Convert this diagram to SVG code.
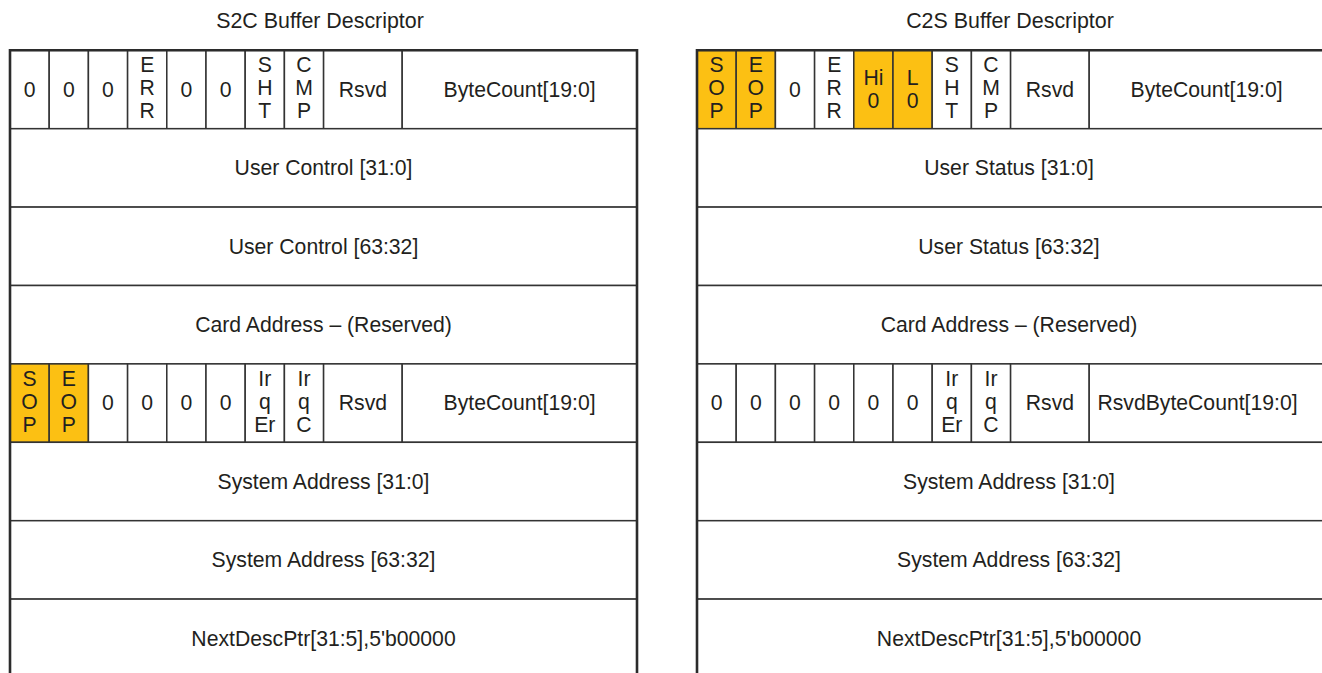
<svg xmlns="http://www.w3.org/2000/svg" width="1322" height="673" viewBox="0 0 1322 673">
<style>
.bg{fill:#ffffff}
.c{fill:#ffffff;stroke:#333333;stroke-width:1.5}
.o{fill:#fcc013;stroke:#333333;stroke-width:1.5}
.b{fill:none;stroke:#2b2b2b;stroke-width:2.6}
text{font-family:"Liberation Sans",Arial,Helvetica,sans-serif;font-size:21.2px;fill:#231f20;text-anchor:middle}
.t{font-size:21.4px}
</style>
<rect class="bg" x="0" y="0" width="1322" height="673"/>
<text class="t" x="320" y="28">S2C Buffer Descriptor</text>
<text class="t" x="1010" y="28">C2S Buffer Descriptor</text>

<g id="s2c">
<g id="s2c-r1">
<rect class="c" x="10" y="50.3" width="39.2" height="78.4"/><text x="29.6" y="96.5">0</text>
<rect class="c" x="49.2" y="50.3" width="39.2" height="78.4"/><text x="68.8" y="96.5">0</text>
<rect class="c" x="88.4" y="50.3" width="39.2" height="78.4"/><text x="108" y="96.5">0</text>
<rect class="c" x="127.6" y="50.3" width="39.2" height="78.4"/><text x="147.2" y="72">E</text><text x="147.2" y="95">R</text><text x="147.2" y="118">R</text>
<rect class="c" x="166.8" y="50.3" width="39.2" height="78.4"/><text x="186.4" y="96.5">0</text>
<rect class="c" x="206" y="50.3" width="39.2" height="78.4"/><text x="225.6" y="96.5">0</text>
<rect class="c" x="245.2" y="50.3" width="39.2" height="78.4"/><text x="264.8" y="72">S</text><text x="264.8" y="95">H</text><text x="264.8" y="118">T</text>
<rect class="c" x="284.4" y="50.3" width="39.2" height="78.4"/><text x="304" y="72">C</text><text x="304" y="95">M</text><text x="304" y="118">P</text>
<rect class="c" x="323.6" y="50.3" width="78.6" height="78.4"/><text x="362.9" y="96.5">Rsvd</text>
<rect class="c" x="402.2" y="50.3" width="234.8" height="78.4"/><text x="519.6" y="96.5">ByteCount[19:0]</text>
</g>
<g id="s2c-r2"><rect class="c" x="10" y="128.7" width="627" height="78.4"/><text x="323.5" y="175">User Control [31:0]</text></g>
<g id="s2c-r3"><rect class="c" x="10" y="207.1" width="627" height="78.4"/><text x="323.5" y="253.5">User Control [63:32]</text></g>
<g id="s2c-r4"><rect class="c" x="10" y="285.5" width="627" height="78.4"/><text x="323.5" y="332">Card Address – (Reserved)</text></g>
<g id="s2c-r5">
<rect class="o" x="10" y="363.9" width="39.2" height="78.4"/><text x="29.6" y="385.5">S</text><text x="29.6" y="408.5">O</text><text x="29.6" y="431.5">P</text>
<rect class="o" x="49.2" y="363.9" width="39.2" height="78.4"/><text x="68.8" y="385.5">E</text><text x="68.8" y="408.5">O</text><text x="68.8" y="431.5">P</text>
<rect class="c" x="88.4" y="363.9" width="39.2" height="78.4"/><text x="108" y="410">0</text>
<rect class="c" x="127.6" y="363.9" width="39.2" height="78.4"/><text x="147.2" y="410">0</text>
<rect class="c" x="166.8" y="363.9" width="39.2" height="78.4"/><text x="186.4" y="410">0</text>
<rect class="c" x="206" y="363.9" width="39.2" height="78.4"/><text x="225.6" y="410">0</text>
<rect class="c" x="245.2" y="363.9" width="39.2" height="78.4"/><text x="264.8" y="385.5">Ir</text><text x="264.8" y="408.5">q</text><text x="264.8" y="431.5">Er</text>
<rect class="c" x="284.4" y="363.9" width="39.2" height="78.4"/><text x="304" y="385.5">Ir</text><text x="304" y="408.5">q</text><text x="304" y="431.5">C</text>
<rect class="c" x="323.6" y="363.9" width="78.6" height="78.4"/><text x="362.9" y="410">Rsvd</text>
<rect class="c" x="402.2" y="363.9" width="234.8" height="78.4"/><text x="519.6" y="410">ByteCount[19:0]</text>
</g>
<g id="s2c-r6"><rect class="c" x="10" y="442.3" width="627" height="78.4"/><text x="323.5" y="488.5">System Address [31:0]</text></g>
<g id="s2c-r7"><rect class="c" x="10" y="520.7" width="627" height="78.4"/><text x="323.5" y="567">System Address [63:32]</text></g>
<g id="s2c-r8"><rect class="c" x="10" y="599.1" width="627" height="90"/><text x="323.5" y="645.5">NextDescPtr[31:5],5'b00000</text></g>
<path class="b" d="M10,690 V50.3 H637 V690"/>
</g>

<g id="c2s">
<g id="c2s-r1">
<rect class="o" x="697" y="50.3" width="39.2" height="78.4"/><text x="716.6" y="72">S</text><text x="716.6" y="95">O</text><text x="716.6" y="118">P</text>
<rect class="o" x="736.2" y="50.3" width="39.2" height="78.4"/><text x="755.8" y="72">E</text><text x="755.8" y="95">O</text><text x="755.8" y="118">P</text>
<rect class="c" x="775.4" y="50.3" width="39.2" height="78.4"/><text x="795" y="96.5">0</text>
<rect class="c" x="814.6" y="50.3" width="39.2" height="78.4"/><text x="834.2" y="72">E</text><text x="834.2" y="95">R</text><text x="834.2" y="118">R</text>
<rect class="o" x="853.8" y="50.3" width="39.2" height="78.4"/><text x="873.4" y="84.5">Hi</text><text x="873.4" y="108">0</text>
<rect class="o" x="893" y="50.3" width="39.2" height="78.4"/><text x="912.6" y="84.5">L</text><text x="912.6" y="108">0</text>
<rect class="c" x="932.2" y="50.3" width="39.2" height="78.4"/><text x="951.8" y="72">S</text><text x="951.8" y="95">H</text><text x="951.8" y="118">T</text>
<rect class="c" x="971.4" y="50.3" width="39.2" height="78.4"/><text x="991" y="72">C</text><text x="991" y="95">M</text><text x="991" y="118">P</text>
<rect class="c" x="1010.6" y="50.3" width="78.6" height="78.4"/><text x="1049.9" y="96.5">Rsvd</text>
<rect class="c" x="1089.2" y="50.3" width="234.8" height="78.4"/><text x="1206.6" y="96.5">ByteCount[19:0]</text>
</g>
<g id="c2s-r2"><rect class="c" x="697" y="128.7" width="627" height="78.4"/><text x="1009" y="175">User Status [31:0]</text></g>
<g id="c2s-r3"><rect class="c" x="697" y="207.1" width="627" height="78.4"/><text x="1009" y="253.5">User Status [63:32]</text></g>
<g id="c2s-r4"><rect class="c" x="697" y="285.5" width="627" height="78.4"/><text x="1009" y="332">Card Address – (Reserved)</text></g>
<g id="c2s-r5">
<rect class="c" x="697" y="363.9" width="39.2" height="78.4"/><text x="716.6" y="410">0</text>
<rect class="c" x="736.2" y="363.9" width="39.2" height="78.4"/><text x="755.8" y="410">0</text>
<rect class="c" x="775.4" y="363.9" width="39.2" height="78.4"/><text x="795" y="410">0</text>
<rect class="c" x="814.6" y="363.9" width="39.2" height="78.4"/><text x="834.2" y="410">0</text>
<rect class="c" x="853.8" y="363.9" width="39.2" height="78.4"/><text x="873.4" y="410">0</text>
<rect class="c" x="893" y="363.9" width="39.2" height="78.4"/><text x="912.6" y="410">0</text>
<rect class="c" x="932.2" y="363.9" width="39.2" height="78.4"/><text x="951.8" y="385.5">Ir</text><text x="951.8" y="408.5">q</text><text x="951.8" y="431.5">Er</text>
<rect class="c" x="971.4" y="363.9" width="39.2" height="78.4"/><text x="991" y="385.5">Ir</text><text x="991" y="408.5">q</text><text x="991" y="431.5">C</text>
<rect class="c" x="1010.6" y="363.9" width="78.6" height="78.4"/><text x="1049.9" y="410">Rsvd</text>
<rect class="c" x="1089.2" y="363.9" width="234.8" height="78.4"/><text x="1197.5" y="410">RsvdByteCount[19:0]</text>
</g>
<g id="c2s-r6"><rect class="c" x="697" y="442.3" width="627" height="78.4"/><text x="1009" y="488.5">System Address [31:0]</text></g>
<g id="c2s-r7"><rect class="c" x="697" y="520.7" width="627" height="78.4"/><text x="1009" y="567">System Address [63:32]</text></g>
<g id="c2s-r8"><rect class="c" x="697" y="599.1" width="627" height="90"/><text x="1009" y="645.5">NextDescPtr[31:5],5'b00000</text></g>
<path class="b" d="M697,690 V50.3 H1324 V690"/>
</g>
</svg>
